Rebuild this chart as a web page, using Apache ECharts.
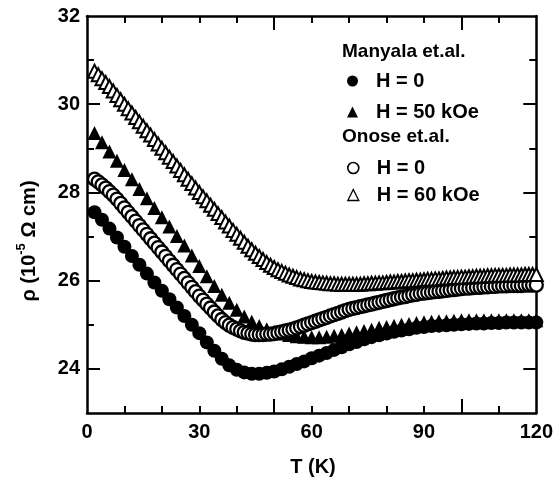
<!DOCTYPE html>
<html>
<head>
<meta charset="utf-8">
<script src="https://cdn.jsdelivr.net/npm/echarts@6/dist/echarts.min.js"></script>
<style>html,body{margin:0;padding:0;background:#fff;}#c{width:556px;height:479px;}</style>
</head>
<body>
<div id="c"></div>
<script>
// ---- data ----
const xTickLabels = [0, 30, 60, 90, 120];
const yTickLabels = [24, 26, 28, 30, 32];

// Manyala et.al. temperatures: 2 K ... 120 K every 2 K
const manyala_T = [2,4,6,8,10,12,14,16,18,20,22,24,26,28,30,32,34,36,38,40,42,44,46,48,50,52,54,56,58,60,62,64,66,68,70,72,74,76,78,80,82,84,86,88,90,92,94,96,98,100,102,104,106,108,110,112,114,116,118,120];

// Manyala et.al., H = 0 (filled circles)
const manyalaH0_rho = [27.55,27.38,27.18,26.98,26.77,26.56,26.36,26.16,25.96,25.77,25.58,25.39,25.20,25.00,24.81,24.60,24.41,24.23,24.08,23.98,23.92,23.89,23.89,23.91,23.94,23.99,24.05,24.11,24.17,24.24,24.30,24.36,24.43,24.49,24.56,24.61,24.67,24.72,24.76,24.80,24.84,24.87,24.90,24.93,24.95,24.97,24.98,24.99,25.00,25.01,25.02,25.03,25.03,25.04,25.04,25.05,25.05,25.05,25.05,25.05];

// Manyala et.al., H = 50 kOe (filled triangles)
const manyalaH50_rho = [29.35,29.14,28.93,28.72,28.51,28.30,28.08,27.87,27.65,27.44,27.23,27.01,26.80,26.57,26.33,26.10,25.88,25.68,25.50,25.34,25.19,25.07,24.97,24.90,24.84,24.80,24.77,24.74,24.73,24.72,24.72,24.73,24.75,24.77,24.80,24.83,24.86,24.89,24.93,24.95,24.98,25.00,25.02,25.04,25.06,25.07,25.08,25.08,25.09,25.10,25.10,25.10,25.10,25.10,25.10,25.10,25.10,25.10,25.10,25.10];

// Onose et.al. temperatures: 2 K ... 120 K every 1 K
const onose_T = [2,3,4,5,6,7,8,9,10,11,12,13,14,15,16,17,18,19,20,21,22,23,24,25,26,27,28,29,30,31,32,33,34,35,36,37,38,39,40,41,42,43,44,45,46,47,48,49,50,51,52,53,54,55,56,57,58,59,60,61,62,63,64,65,66,67,68,69,70,71,72,73,74,75,76,77,78,79,80,81,82,83,84,85,86,87,88,89,90,91,92,93,94,95,96,97,98,99,100,101,102,103,104,105,106,107,108,109,110,111,112,113,114,115,116,117,118,119,120];

// Onose et.al., H = 0 (open circles)
const onoseH0_rho = [28.30,28.24,28.17,28.10,28.02,27.94,27.85,27.75,27.65,27.55,27.45,27.35,27.25,27.15,27.05,26.95,26.85,26.75,26.65,26.55,26.45,26.35,26.25,26.15,26.05,25.95,25.85,25.75,25.65,25.56,25.47,25.38,25.29,25.20,25.12,25.05,24.99,24.94,24.90,24.86,24.83,24.81,24.79,24.78,24.78,24.78,24.79,24.79,24.80,24.82,24.84,24.86,24.88,24.90,24.93,24.96,24.99,25.02,25.05,25.08,25.11,25.14,25.17,25.20,25.23,25.26,25.29,25.32,25.35,25.37,25.39,25.41,25.43,25.45,25.47,25.49,25.51,25.53,25.55,25.57,25.59,25.61,25.63,25.64,25.66,25.68,25.69,25.71,25.72,25.73,25.74,25.75,25.76,25.77,25.78,25.79,25.80,25.81,25.82,25.83,25.83,25.84,25.85,25.85,25.86,25.86,25.87,25.87,25.88,25.88,25.88,25.89,25.89,25.89,25.89,25.90,25.90,25.90,25.90];

// Onose et.al., H = 60 kOe (open triangles)
const onoseH60_rho = [30.75,30.67,30.58,30.49,30.40,30.30,30.20,30.10,30.00,29.90,29.80,29.70,29.60,29.50,29.40,29.30,29.20,29.10,29.00,28.90,28.80,28.70,28.60,28.50,28.40,28.30,28.20,28.10,28.00,27.90,27.81,27.71,27.62,27.52,27.43,27.33,27.24,27.14,27.05,26.96,26.87,26.78,26.70,26.62,26.55,26.48,26.41,26.35,26.30,26.25,26.21,26.17,26.13,26.10,26.07,26.04,26.02,26.00,25.98,25.97,25.96,25.95,25.94,25.93,25.93,25.92,25.92,25.92,25.92,25.92,25.92,25.92,25.93,25.93,25.94,25.94,25.95,25.95,25.96,25.97,25.97,25.98,25.98,25.99,26.00,26.00,26.01,26.01,26.02,26.03,26.03,26.04,26.04,26.05,26.06,26.06,26.07,26.07,26.08,26.08,26.09,26.09,26.10,26.10,26.10,26.11,26.11,26.12,26.12,26.12,26.12,26.13,26.13,26.13,26.13,26.14,26.14,26.14,26.14];

const seriesNames = ['H = 0 ', 'H = 50 kOe', 'H = 0', 'H = 60 kOe'];

// ---- build ----
const zip = (xs, ys) => xs.map((x, i) => [x, ys[i]]);
const FONT = 'Liberation Sans, Arial, sans-serif';
const lblStyle = {fontFamily: FONT, fontWeight: 'bold', fontSize: 20, color: '#000'};
const legStyle = {fontFamily: FONT, fontWeight: 'bold', fontSize: 20, color: '#000'};
const LW = 2.5;

function xAx(pos, showLabel, tickVals, len, showLine) {
  return {
    type: 'value', position: pos, min: 0, max: 120, interval: 10, gridIndex: 0,
    axisLine: {show: showLine, onZero: false, lineStyle: {color: '#000', width: LW}},
    axisTick: {show: true, inside: true, length: len, customValues: tickVals, lineStyle: {color: '#000', width: 2}},
    axisLabel: showLabel ? Object.assign({show: true, margin: 9, customValues: xTickLabels}, lblStyle) : {show: false},
    splitLine: {show: false}
  };
}
function yAx(pos, showLabel, tickVals, len, showLine) {
  return {
    type: 'value', position: pos, min: 23, max: 32, interval: 1, gridIndex: 0,
    axisLine: {show: showLine, onZero: false, lineStyle: {color: '#000', width: LW}},
    axisTick: {show: true, inside: true, length: len, customValues: tickVals, lineStyle: {color: '#000', width: 2}},
    axisLabel: showLabel ? Object.assign({show: true, margin: 7, customValues: yTickLabels}, lblStyle) : {show: false},
    splitLine: {show: false}
  };
}

const chart = echarts.init(document.getElementById('c'), null, {renderer: 'canvas'});
chart.setOption({
  animation: false,
  backgroundColor: '#fff',
  grid: {left: 87, right: 17, top: 16, bottom: 66, containLabel: false},
  xAxis: [
    xAx('bottom', true, [10,20,30,40,60,70,80,90,110], 7, true),
    xAx('bottom', false, [50,100], 14, false),
    xAx('top', false, [10,20,30,40,60,70,80,90,110], 7, true),
    xAx('top', false, [50,100], 14, false)
  ],
  yAxis: [
    yAx('left', true, [25,27,29,31], 7, true),
    yAx('left', false, [24,26,28,30], 13, false),
    yAx('right', false, [25,27,29,31], 7, true),
    yAx('right', false, [24,26,28,30], 13, false)
  ],
  legend: [
    {
      data: [{name: seriesNames[0], icon: 'circle'}, {name: seriesNames[1], icon: 'triangle'}],
      orient: 'vertical', left: 342, top: 66, itemWidth: 11, itemHeight: 11, itemGap: 11,
      textStyle: Object.assign({padding: [0, 0, 0, 13]}, legStyle), selectedMode: false
    },
    {
      data: [{name: seriesNames[2], icon: 'circle', itemStyle: {borderWidth: 1.6}}, {name: seriesNames[3], icon: 'triangle', itemStyle: {borderWidth: 1.3}}],
      orient: 'vertical', left: 342, top: 153, itemWidth: 11, itemHeight: 11, itemGap: 7,
      textStyle: Object.assign({padding: [0, 0, 0, 13]}, legStyle), selectedMode: false
    }
  ],
  graphic: [
    {type: 'text', x: 342, y: 52, style: {text: 'Manyala et.al.', fill: '#000', font: 'bold 19px ' + FONT, verticalAlign: 'middle', align: 'left'}},
    {type: 'text', x: 342, y: 137, style: {text: 'Onose et.al.', fill: '#000', font: 'bold 19px ' + FONT, verticalAlign: 'middle', align: 'left'}},
    {type: 'text', x: 27, y: 241, rotation: Math.PI / 2,
      style: {
        text: '{a|ρ (10}{s|-5}{a| Ω cm)}', align: 'center', verticalAlign: 'middle',
        rich: {
          a: {fontFamily: FONT, fontWeight: 'bold', fontSize: 20, fill: '#000', lineHeight: 24, verticalAlign: 'bottom'},
          s: {fontFamily: FONT, fontWeight: 'bold', fontSize: 13, fill: '#000', lineHeight: 24, verticalAlign: 'top'}
        }
      }},
    {type: 'text', x: 313, y: 467, style: {text: 'T (K)', fill: '#000', font: 'bold 20px ' + FONT, align: 'center', verticalAlign: 'middle'}}
  ],
  series: [
    {name: seriesNames[0], type: 'scatter', xAxisIndex: 0, yAxisIndex: 0, symbol: 'circle', symbolSize: 14,
      itemStyle: {color: '#000', opacity: 1}, data: zip(manyala_T, manyalaH0_rho)},
    {name: seriesNames[1], type: 'scatter', xAxisIndex: 0, yAxisIndex: 0, symbol: 'triangle', symbolSize: 14,
      itemStyle: {color: '#000', opacity: 1}, data: zip(manyala_T, manyalaH50_rho)},
    {name: seriesNames[2], type: 'scatter', xAxisIndex: 0, yAxisIndex: 0, symbol: 'circle', symbolSize: 13,
      itemStyle: {color: '#fff', borderColor: '#000', borderWidth: 2.3, opacity: 1}, data: zip(onose_T, onoseH0_rho)},
    {name: seriesNames[3], type: 'scatter', xAxisIndex: 0, yAxisIndex: 0, symbol: 'triangle', symbolSize: 13,
      itemStyle: {color: '#fff', borderColor: '#000', borderWidth: 2, opacity: 1}, data: zip(onose_T, onoseH60_rho)}
  ]
});
</script>
</body>
</html>
